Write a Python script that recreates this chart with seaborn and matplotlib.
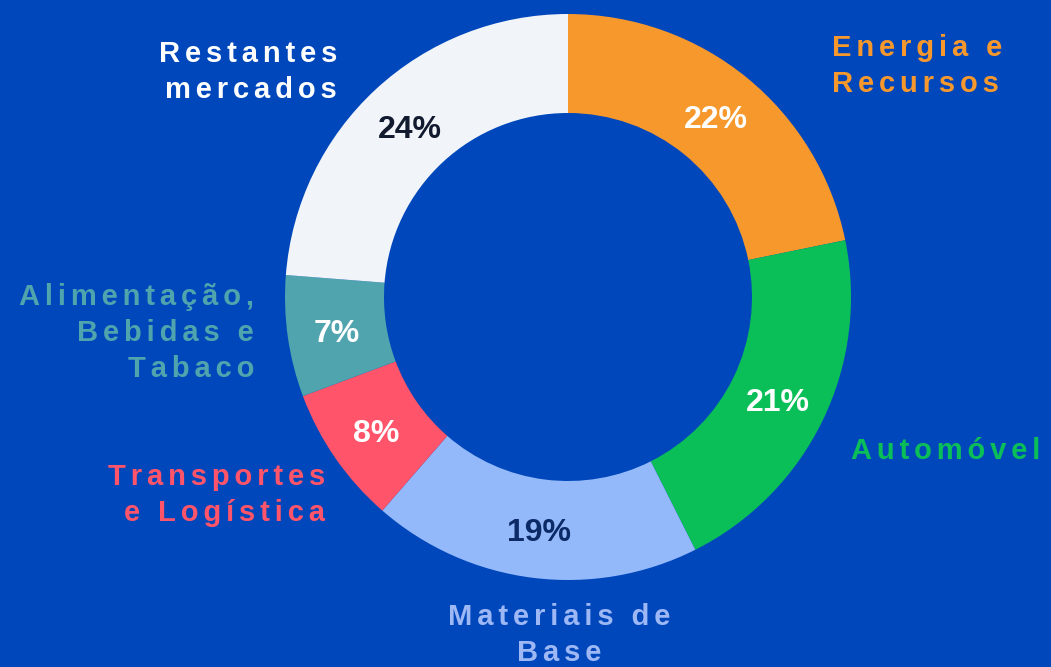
import matplotlib

matplotlib.use("Agg")

import matplotlib.pyplot as plt
import numpy as np
import seaborn as sns

# ---------------------------------------------------------------------------
# Data
# ---------------------------------------------------------------------------

sectors = [
    "Energia e\nRecursos",
    "Automóvel",
    "Materiais de\nBase",
    "Transportes\ne Logística",
    "Alimentação,\nBebidas e\nTabaco",
    "Restantes\nmercados",
]
shares = [22, 21, 19, 8, 7, 24]
colors = ["#f7982d", "#0bbf58", "#94b9fb", "#ff5469", "#4fa4ae", "#f1f4f8"]
pct_colors = ["white", "white", "#0b2a66", "white", "white", "#111a2e"]
label_colors = ["#f7982d", "#0bbf58", "#9db8f5", "#ff5469", "#4fa4ae", "white"]

_BG = "#0047bb"
_FONT = ["Liberation Sans", "DejaVu Sans"]


def spaced(s: str) -> str:
    # fake letter spacing with six-per-em spaces
    return "\n".join("\u2006".join(line) for line in s.split("\n"))


sns.set_theme(style="white")
plt.rcParams["font.family"] = _FONT

fig = plt.figure(figsize=(10.51, 6.67), dpi=100, facecolor=_BG)
ax = fig.add_axes([0, 0, 1, 1])
ax.set_facecolor(_BG)

cx, cy, R, ring = 568, 370, 283, 99

wedges, _ = ax.pie(
    shares,
    colors=colors,
    startangle=90,
    counterclock=False,
    radius=R,
    center=(cx, cy),
    wedgeprops=dict(width=ring, linewidth=0),
)

# percentages in the middle of the ring (nudged down a bit: bbox includes descent)
for w, val, c in zip(wedges, shares, pct_colors):
    ang = np.deg2rad((w.theta1 + w.theta2) / 2)
    r = R - ring / 2
    ax.text(
        cx + r * np.cos(ang),
        cy + r * np.sin(ang) - 4,
        f"{val}%",
        ha="center",
        va="center",
        fontsize=23,
        fontweight="bold",
        color=c,
    )

# outer category labels (pixel positions, y up)
label_pos = [
    (832, 601, "left"),
    (851, 216, "left"),
    (559, 32, "center"),
    (325, 172, "right"),
    (254, 334, "right"),
    (337, 595, "right"),
]

for name, (x, y, ha), c in zip(sectors, label_pos, label_colors):
    ax.text(
        x,
        y,
        spaced(name),
        ha=ha,
        va="center",
        multialignment=ha,
        fontsize=21,
        fontweight="bold",
        color=c,
        linespacing=1.38,
    )

ax.set_xlim(0, 1051)
ax.set_ylim(0, 667)
ax.set_aspect("equal")
ax.axis("off")

fig.savefig("out.png", dpi=100, facecolor=_BG)
